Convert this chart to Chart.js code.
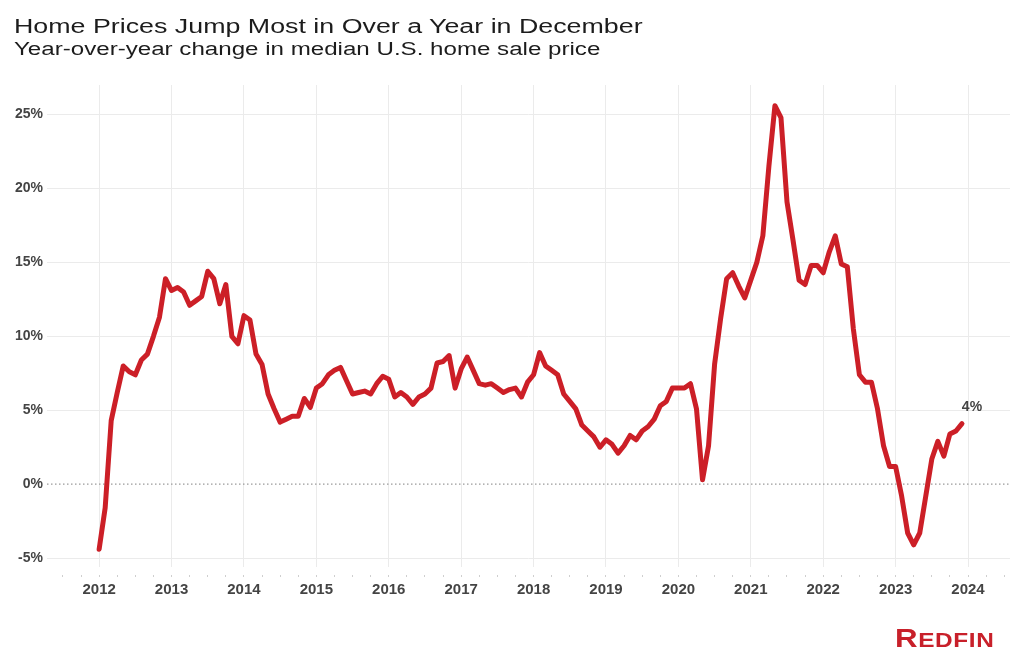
<!DOCTYPE html>
<html>
<head>
<meta charset="utf-8">
<script src="https://cdn.jsdelivr.net/npm/chart.js@4.4.1/dist/chart.umd.min.js"></script>
<style>
  body { margin: 0; background: #fff; }
  #wrap { position: relative; width: 1024px; height: 667px; overflow: hidden; }
  .t { position: absolute; left: 14px; transform-origin: 0 0; transform: scaleX(1.34);
       font-family: "Liberation Sans", Arial, sans-serif; color: #1c1c1c; white-space: nowrap; line-height: 1; }
  #title { top: 16px; font-size: 20px; }
  #subtitle { top: 40px; font-size: 18px; }
  #logo { position: absolute; left: 895px; top: 626px; transform-origin: 0 0; transform: scaleX(1.25);
          font-family: "Liberation Sans", Arial, sans-serif; font-weight: bold; color: #c8202a;
          white-space: nowrap; line-height: 1; letter-spacing: 0.5px; }
  #logo .big { font-size: 25px; }
  #logo .small { font-size: 19.5px; }
  canvas { position: absolute; left: 0; top: 0; }
</style>
</head>
<body>
<div id="wrap">
  <canvas id="homeChart" width="1024" height="667"></canvas>
  <div class="t" id="title">Home Prices Jump Most in Over a Year in December</div>
  <div class="t" id="subtitle">Year-over-year change in median U.S. home sale price</div>
  <div id="logo"><span class="big">R</span><span class="small">EDFIN</span></div>
</div>
<script>
// monthly series, Jan 2012 -> Dec 2023
const startYear = 2012;
const yearTicks = [2012, 2013, 2014, 2015, 2016, 2017, 2018, 2019, 2020, 2021, 2022, 2023, 2024];
const yoyChange = [
  -4.4, -1.6, 4.3, 6.2, 8.0, 7.6, 7.4, 8.4, 8.8, 10.0, 11.3, 13.9,   // 2012
  13.1, 13.3, 13.0, 12.1, 12.4, 12.7, 14.4, 13.9, 12.2, 13.5, 10.0, 9.5, // 2013
  11.4, 11.1, 8.8, 8.1, 6.1, 5.1, 4.2, 4.4, 4.6, 4.6, 5.8, 5.2,      // 2014
  6.5, 6.8, 7.4, 7.7, 7.9, 7.0, 6.1, 6.2, 6.3, 6.1, 6.8, 7.3,        // 2015
  7.1, 5.9, 6.2, 5.9, 5.4, 5.9, 6.1, 6.5, 8.2, 8.3, 8.7, 6.5,        // 2016
  7.8, 8.6, 7.7, 6.8, 6.7, 6.8, 6.5, 6.2, 6.4, 6.5, 5.9, 6.9,        // 2017
  7.4, 8.9, 8.0, 7.7, 7.4, 6.1, 5.6, 5.1, 4.0, 3.6, 3.2, 2.5,        // 2018
  3.0, 2.7, 2.1, 2.6, 3.3, 3.0, 3.6, 3.9, 4.4, 5.3, 5.6, 6.5,        // 2019
  6.5, 6.5, 6.8, 5.1, 0.3, 2.6, 8.1, 11.2, 13.9, 14.3, 13.4, 12.6,   // 2020
  13.8, 15.0, 16.8, 21.5, 25.6, 24.8, 19.1, 16.5, 13.8, 13.5, 14.8, 14.8, // 2021
  14.3, 15.7, 16.8, 14.9, 14.7, 10.5, 7.4, 6.9, 6.9, 5.1, 2.6, 1.2,  // 2022
  1.2, -0.8, -3.3, -4.1, -3.3, -0.8, 1.7, 2.9, 1.9, 3.4, 3.6, 4.1    // 2023
];
const lastLabel = '4%';

const xMin = 2011.28, xMax = 2024.58;
const yMin = -5.6, yMax = 27;

const linePoints = yoyChange.map((v, i) => ({ x: startYear + i / 12, y: v }));
const zeroLine = [{ x: xMin, y: 0 }, { x: xMax, y: 0 }];

const endLabel = {
  id: 'endLabel',
  afterDatasetsDraw(chart) {
    const meta = chart.getDatasetMeta(0);
    const pt = meta.data[meta.data.length - 1];
    const ctx = chart.ctx;
    ctx.save();
    ctx.font = 'bold 14px "Liberation Sans", Arial, sans-serif';
    ctx.fillStyle = '#444';
    ctx.textAlign = 'center';
    ctx.textBaseline = 'middle';
    ctx.fillText(lastLabel, pt.x + 10, pt.y - 16);
    ctx.restore();
  }
};

const tickFont = { family: '"Liberation Sans", Arial, sans-serif', weight: 'bold' };

new Chart(document.getElementById('homeChart'), {
  type: 'line',
  data: {
    datasets: [{
      data: linePoints,
      borderColor: '#cc1f27',
      borderWidth: 5,
      pointRadius: 0,
      tension: 0,
      borderJoinStyle: 'round',
      borderCapStyle: 'round',
      order: 0
    }, {
      data: zeroLine,
      borderColor: '#9a9a9a',
      borderWidth: 1.2,
      borderDash: [1.5, 2.5],
      pointRadius: 0,
      order: 1
    }]
  },
  options: {
    responsive: false,
    animation: false,
    layout: { padding: { top: 85, right: 14, left: 0, bottom: 0 } },
    plugins: { legend: { display: false }, tooltip: { enabled: false } },
    scales: {
      x: {
        type: 'linear',
        min: xMin,
        max: xMax,
        afterFit(scale) { scale.height = 100; },
        border: { display: false },
        grid: {
          color: c => (Number.isInteger(Math.round(c.tick.value * 1000) / 1000) ? '#ebebeb' : 'rgba(0,0,0,0)'),
          tickColor: '#cfcfcf',
          tickLength: 10,
          tickBorderDash: [0, 8, 2, 20]
        },
        ticks: {
          stepSize: 0.25,
          includeBounds: false,
          maxTicksLimit: 200,
          autoSkip: false,
          maxRotation: 0,
          padding: 4,
          color: '#444',
          font: { ...tickFont, size: 15 },
          callback: v => (yearTicks.includes(Math.round(v * 1000) / 1000) ? String(Math.round(v)) : '')
        }
      },
      y: {
        min: yMin,
        max: yMax,
        afterFit(scale) { scale.width = 47; },
        border: { display: false },
        grid: {
          color: c => (c.tick.value === 0 ? 'rgba(0,0,0,0)' : '#ebebeb'),
          drawTicks: false
        },
        ticks: {
          stepSize: 5,
          includeBounds: false,
          padding: 4,
          color: '#444',
          font: { ...tickFont, size: 14 },
          callback: v => v + '%'
        }
      }
    }
  },
  plugins: [endLabel]
});
</script>
</body>
</html>
